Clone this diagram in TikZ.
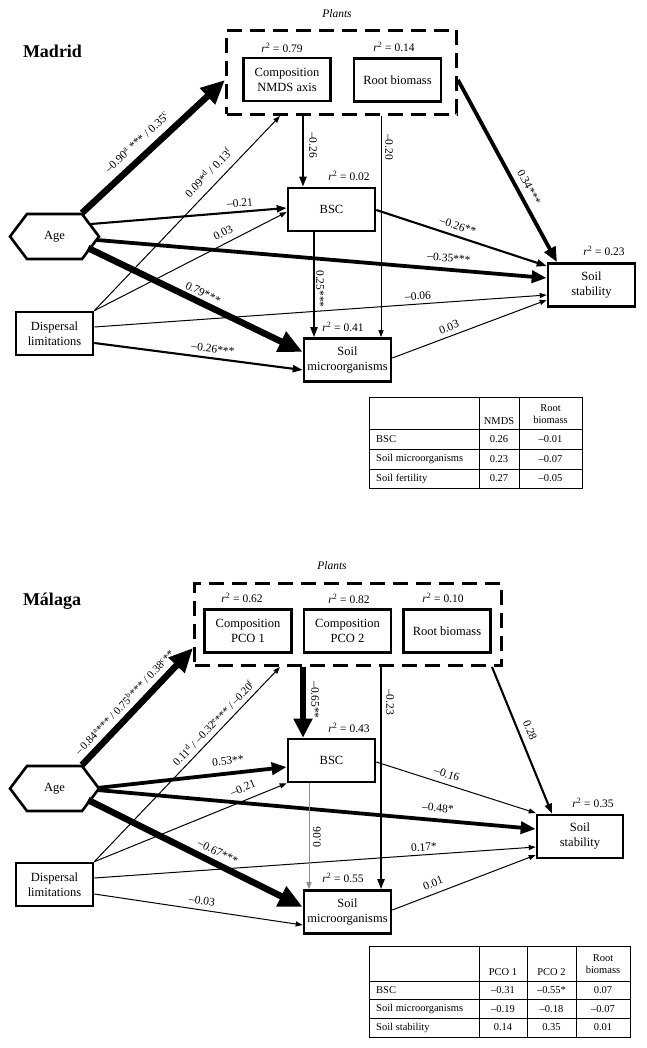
\documentclass[tikz,border=0pt]{standalone}
\usepackage{fontspec}
\setmainfont{Liberation Serif}
\usetikzlibrary{arrows.meta,calc}
\newcommand\mynfont{\fontsize{12.5}{15}\selectfont}
\newcommand\mylfont{\fontsize{11.5}{13}\selectfont}
\newcommand\mysfont{\fontsize{11}{13}\selectfont}
\newcommand\mytfont{\fontsize{10.5}{12.5}\selectfont}
\newcommand\myrsq[1]{\textit{r}\textsuperscript{2} = #1}
\begin{document}
\begin{tikzpicture}[x=1pt,y=-1pt,
  box/.style={draw, line width=2.6pt, inner sep=0pt, minimum width=87pt, minimum height=43pt, align=center, font=\mynfont},
  plantbox/.style={draw, line width=3pt, dash pattern=on 15pt off 8pt, inner sep=0pt},
  hexline/.style={line width=2.6pt, line join=miter},
  lab/.style={font=\mylfont, inner sep=0pt},
  slab/.style={font=\mysfont, inner sep=0pt},
  tab/.style={font=\mytfont, inner sep=0pt},
  tabline/.style={line width=0.6pt},
  vthickarr/.style={line width=6.5pt, -{Triangle[length=24pt,width=21pt]}},
  vthickarrb/.style={line width=5.5pt, -{Triangle[length=19pt,width=18pt]}},
  thickarr/.style={line width=3.8pt, -{Triangle[length=15pt,width=12pt]}},
  medarr/.style={line width=2.1pt, -{Triangle[length=10pt,width=7pt]}},
  thinarr/.style={line width=1pt, -{Triangle[length=7pt,width=5pt]}},
  grayarr/.style={line width=1pt, draw=black!45, -{Triangle[length=7pt,width=5pt]}}
]
\fill[white] (0,0) rectangle (646,1048);
\useasboundingbox (0,0) rectangle (646,1048);

%================ MADRID =================
\node[font=\fontsize{18}{20}\selectfont\bfseries] (titM) at (52.5,51) {Madrid};
\node[font=\mylfont\itshape] (plM) at (337,14) {Plants};
\node[plantbox, minimum width=230pt, minimum height=84pt] (plantsM) at (341.5,72.5) {};
\node[box] (compM) at (287,79.5) {Composition\\NMDS axis};
\node[box] (rootM) at (397.5,80) {Root biomass};
\node[box] (bscM) at (331.5,209.5) {BSC};
\node[box, minimum width=77pt] (dispM) at (54.5,333.5) {Dispersal\\limitations};
\node[box] (microM) at (347.5,360) {Soil\\microorganisms};
\node[box] (stabM) at (591.5,285) {Soil\\stability};
\node[font=\mynfont, inner sep=0pt] (ageM) at (54.5,236.5) {Age};
\draw[hexline] ($(ageM)+(-44.5,0)$) -- ($(ageM)+(-27.5,-22.5)$) -- ($(ageM)+(27.5,-22.5)$) -- ($(ageM)+(44.5,0)$) -- ($(ageM)+(27.5,22.5)$) -- ($(ageM)+(-27.5,22.5)$) -- cycle;

\node[lab] (rcM) at (282,48) {\myrsq{0.79}};
\node[lab] (rrM) at (394,47) {\myrsq{0.14}};
\node[lab] (rbM) at (349,176) {\myrsq{0.02}};
\node[lab] (rmM) at (343,327) {\myrsq{0.41}};
\node[lab] (rsM) at (604,251) {\myrsq{0.23}};

\draw[vthickarr] ($(ageM)+(27.5,-23.5)$) -- ($(plantsM.west)+(0,7.5)$);
\draw[thinarr] (dispM.north east) -- ($(plantsM.south)+(-61.5,0)$);
\draw[medarr] ($(ageM)+(36.5,-12.5)$) -- ($(bscM.west)+(0,-1.5)$);
\draw[thinarr] (dispM.north east) -- ($(bscM.west)+(0,2.5)$);
\draw[thickarr] ($(ageM)+(42.5,3.5)$) -- ($(stabM.west)+(0,-7)$);
\draw[vthickarr] ($(ageM)+(33.5,11.5)$) -- ($(microM.west)+(0,-8)$);
\draw[thinarr] ($(dispM.east)+(0,-6.5)$) -- ($(stabM.west)+(0,10)$);
\draw[medarr] ($(dispM.east)+(0,9.5)$) -- ($(microM.west)+(0,10)$);
\draw[medarr] ($(plantsM.south)+(-38.5,0)$) -- ($(bscM.north)+(-28.5,0)$);
\draw[thinarr] ($(plantsM.south)+(39.5,0)$) -- ($(microM.north)+(33.5,0)$);
\draw[thickarr] ($(plantsM.east)+(0,7.5)$) -- ($(stabM.north)+(-34.5,0)$);
\draw[medarr] ($(bscM.east)+(0,0.5)$) -- ($(stabM.west)+(0,-19)$);
\draw[medarr] ($(bscM.south)+(-17.5,0)$) -- ($(microM.north)+(-33.5,0)$);
\draw[thinarr] ($(microM.east)+(0,-2)$) -- ($(stabM.west)+(0,15)$);

\node[lab, rotate=42.9] (lm1) at (137,142) {–0.90\textsuperscript{a} *** / 0.35\textsuperscript{c}};
\node[lab, rotate=46.2] (lm2) at (208,172) {0.09*\textsuperscript{d} / 0.13\textsuperscript{f}};
\node[lab, rotate=4.7] (lm3) at (240,203) {–0.21};
\node[lab, rotate=27.2] (lm4) at (223,233) {0.03};
\node[lab, rotate=-4.8] (lm5) at (449,258) {–0.35***};
\node[lab, rotate=-25.8] (lm6) at (203,293) {0.79***};
\node[lab, rotate=4] (lm7) at (418,296) {–0.06};
\node[lab, rotate=-7.4] (lm8) at (213,349) {–0.26***};
\node[lab, rotate=-90] (lm9) at (313,145) {–0.26};
\node[lab, rotate=-90] (lm10) at (389,147) {–0.20};
\node[lab, rotate=-61.5] (lm11) at (529,187) {0.34***};
\node[lab, rotate=-18.1] (lm12) at (458,226) {–0.26**};
\node[lab, rotate=-90] (lm13) at (320,289) {0.25***};
\node[lab, rotate=20.5] (lm14) at (449,327) {0.03};

% table Madrid
\draw[tabline] (369,397) rectangle (582,488);
\draw[tabline] (479,397) -- (479,488) (519,397) -- (519,488);
\draw[tabline] (369,429) -- (582,429) (369,449) -- (582,449) (369,469) -- (582,469);
\node[tab] (tm1) at (499,421) {NMDS};
\node[tab, align=center] (tm2) at (550.5,414) {Root\\biomass};
\node[tab, anchor=west] (tm3) at (376,439) {BSC};
\node[tab, anchor=west] (tm4) at (376,459) {Soil microorganisms};
\node[tab, anchor=west] (tm5) at (376,478.5) {Soil fertility};
\node[tab] (tm6) at (499,439) {0.26};
\node[tab] (tm7) at (550.5,439) {–0.01};
\node[tab] (tm8) at (499,459) {0.23};
\node[tab] (tm9) at (550.5,459) {–0.07};
\node[tab] (tm10) at (499,478.5) {0.27};
\node[tab] (tm11) at (550.5,478.5) {–0.05};

%================ MALAGA =================
\node[font=\fontsize{18}{20}\selectfont\bfseries] (titK) at (52,601) {Málaga};
\node[font=\mylfont\itshape] (plK) at (332,566) {Plants};
\node[plantbox, minimum width=307pt, minimum height=82pt] (plantsK) at (348,624.5) {};
\node[box] (pco1) at (248,631) {Composition\\PCO 1};
\node[box] (pco2) at (347.5,631) {Composition\\PCO 2};
\node[box] (rootK) at (447,631) {Root biomass};
\node[box] (bscK) at (331.5,760.5) {BSC};
\node[box, minimum width=77pt] (dispK) at (54.5,884.5) {Dispersal\\limitations};
\node[box] (microK) at (347.5,912) {Soil\\microorganisms};
\node[box, minimum width=86pt] (stabK) at (580,836.5) {Soil\\stability};
\node[font=\mynfont, inner sep=0pt] (ageK) at (54.5,788.5) {Age};
\draw[hexline] ($(ageK)+(-44.5,0)$) -- ($(ageK)+(-27.5,-22.5)$) -- ($(ageK)+(27.5,-22.5)$) -- ($(ageK)+(44.5,0)$) -- ($(ageK)+(27.5,22.5)$) -- ($(ageK)+(-27.5,22.5)$) -- cycle;

\node[lab] (r1K) at (242,598) {\myrsq{0.62}};
\node[lab] (r2K) at (349,599) {\myrsq{0.82}};
\node[lab] (r3K) at (443,598) {\myrsq{0.10}};
\node[lab] (rbK) at (349,728) {\myrsq{0.43}};
\node[lab] (rmK) at (343,878) {\myrsq{0.55}};
\node[lab] (rsK) at (593,803) {\myrsq{0.35}};

\draw[vthickarr] ($(ageK)+(27.5,-23.5)$) -- ($(plantsK.west)+(0,23.5)$);
\draw[thinarr] (dispK.north east) -- ($(plantsK.south)+(-68,0)$);
\draw[thickarr] ($(ageK)+(42.5,-0.5)$) -- ($(bscK.west)+(0,6.5)$);
\draw[thinarr] (dispK.north east) -- (bscK.south west);
\draw[thickarr] ($(ageK)+(42.5,1.5)$) -- ($(stabK.west)+(0,-7.5)$);
\draw[vthickarr] ($(ageK)+(33.5,11.5)$) -- ($(microK.west)+(0,-5)$);
\draw[thinarr] ($(dispK.east)+(0,-6.5)$) -- ($(stabK.west)+(0,10.5)$);
\draw[thinarr] ($(dispK.east)+(0,9.5)$) -- ($(microK.west)+(0,13)$);
\draw[vthickarrb] ($(plantsK.south)+(-45,0)$) -- ($(bscK.north)+(-28.5,0)$);
\draw[medarr] ($(plantsK.south)+(33,0)$) -- ($(microK.north)+(33.5,0)$);
\draw[medarr] ($(plantsK.south)+(144,0)$) -- ($(stabK.north)+(-28,0)$);
\draw[thinarr] ($(bscK.east)+(0,1.5)$) -- ($(stabK.west)+(0,-23.5)$);
\draw[grayarr] ($(bscK.south)+(-22.5,0)$) -- ($(microK.north)+(-38.5,0)$);
\draw[thinarr] ($(microK.east)+(0,-2)$) -- ($(stabK.west)+(0,18.5)$);

\node[slab, rotate=46.5] (lk1) at (124,702) {–\,0.84\textsuperscript{a}*** / 0.75\textsuperscript{b}*** / 0.38\textsuperscript{c}**};
\node[slab, rotate=46.2] (lk2) at (213,723) {0.11\textsuperscript{d} / –0.32\textsuperscript{e}*** /\,–0.20\textsuperscript{f}};
\node[lab, rotate=6.3] (lk3) at (228,761) {0.53**};
\node[lab, rotate=22.3] (lk4) at (243,788) {–0.21};
\node[lab, rotate=-5.1] (lk5) at (438,808) {–0.48*};
\node[lab, rotate=-26.6] (lk6) at (218,852) {–0.67***};
\node[lab, rotate=4] (lk7) at (424,847) {0.17*};
\node[lab, rotate=-8.4] (lk8) at (202,901) {–0.03};
\node[lab, rotate=-90] (lk9) at (315,700) {–0.65**};
\node[lab, rotate=-90] (lk10) at (390,702) {–0.23};
\node[lab, rotate=-67.8] (lk11) at (530,730) {0.28};
\node[lab, rotate=-17.9] (lk12) at (447,774) {–0.16};
\node[lab, rotate=90] (lk13) at (317,837) {0.06};
\node[lab, rotate=21.2] (lk14) at (433,883) {0.01};

% table Malaga
\draw[tabline] (369,946) rectangle (630,1037);
\draw[tabline] (479,946) -- (479,1037) (527,946) -- (527,1037) (576,946) -- (576,1037);
\draw[tabline] (369,981) -- (630,981) (369,999.5) -- (630,999.5) (369,1018) -- (630,1018);
\node[tab] (tk1) at (503,972) {PCO 1};
\node[tab] (tk2) at (551.5,972) {PCO 2};
\node[tab, align=center] (tk3) at (603,964) {Root\\biomass};
\node[tab, anchor=west] (tk4) at (376,990) {BSC};
\node[tab, anchor=west] (tk5) at (376,1009) {Soil microorganisms};
\node[tab, anchor=west] (tk6) at (376,1027.5) {Soil stability};
\node[tab] (tk7) at (503,990) {–0.31};
\node[tab] (tk8) at (551.5,990) {–0.55*};
\node[tab] (tk9) at (603,990) {0.07};
\node[tab] (tk10) at (503,1009) {–0.19};
\node[tab] (tk11) at (551.5,1009) {–0.18};
\node[tab] (tk12) at (603,1009) {–0.07};
\node[tab] (tk13) at (503,1027.5) {0.14};
\node[tab] (tk14) at (551.5,1027.5) {0.35};
\node[tab] (tk15) at (603,1027.5) {0.01};
\end{tikzpicture}
\end{document}
